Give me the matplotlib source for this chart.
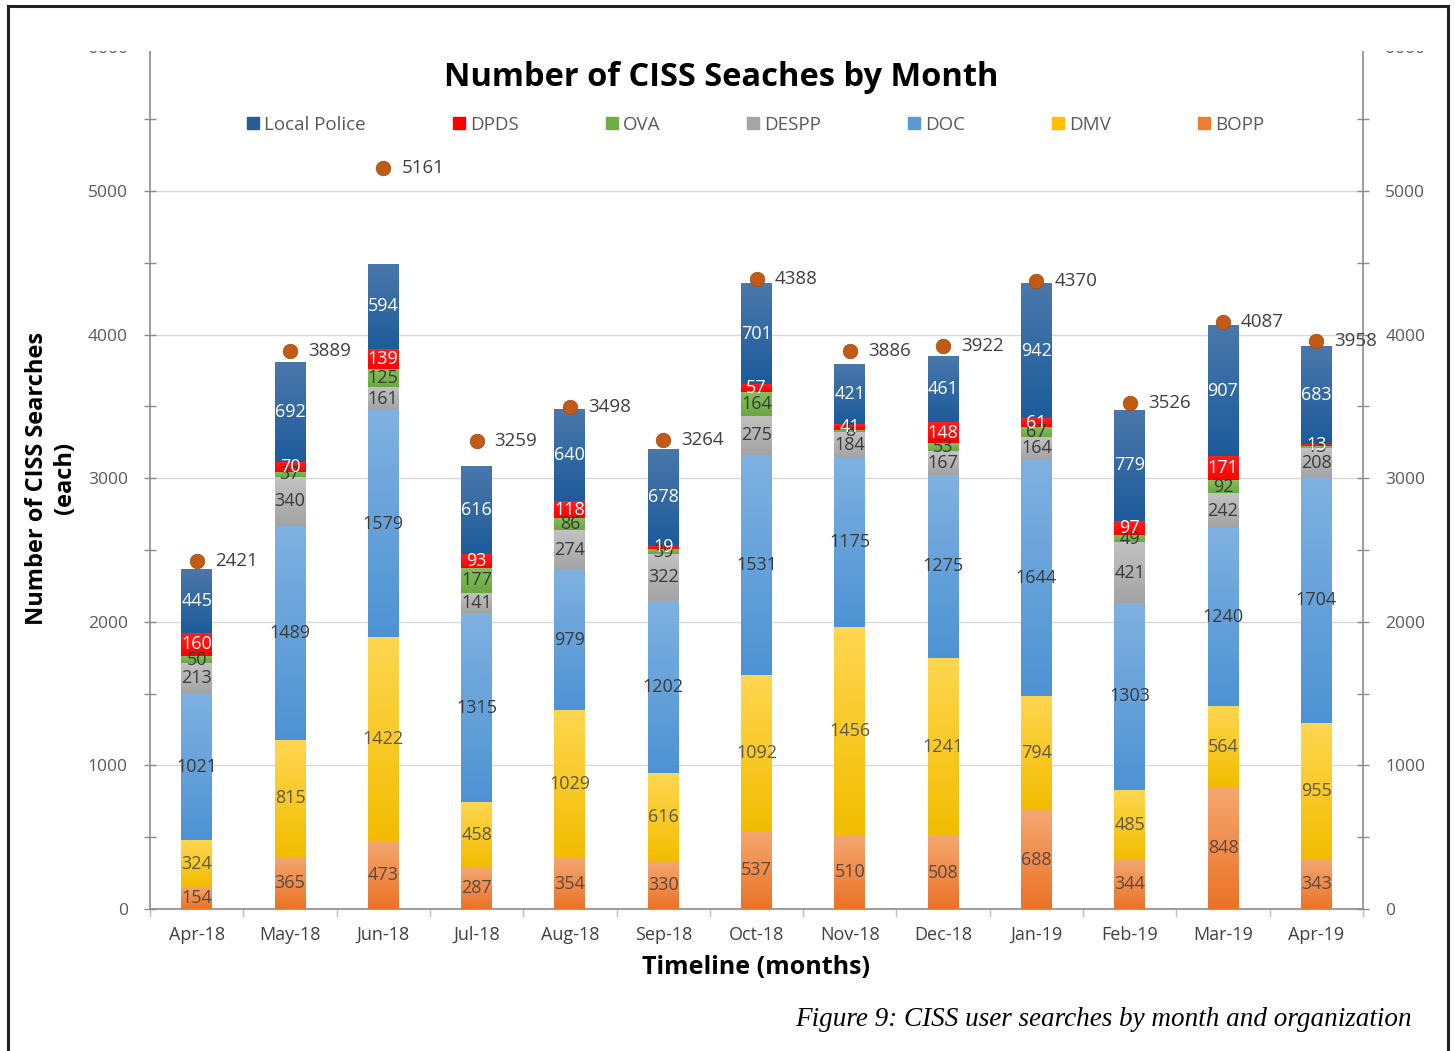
import numpy as np
import matplotlib
matplotlib.use("Agg")
import matplotlib.pyplot as plt
from matplotlib.colors import LinearSegmentedColormap
from matplotlib.lines import Line2D
from matplotlib.patches import Rectangle

months = ["Apr-18", "May-18", "Jun-18", "Jul-18", "Aug-18", "Sep-18", "Oct-18",
          "Nov-18", "Dec-18", "Jan-19", "Feb-19", "Mar-19", "Apr-19"]
bopp = [154, 365, 473, 287, 354, 330, 537, 510, 508, 688, 344, 848, 343]
dmv = [324, 815, 1422, 458, 1029, 616, 1092, 1456, 1241, 794, 485, 564, 955]
doc = [1021, 1489, 1579, 1315, 979, 1202, 1531, 1175, 1275, 1644, 1303, 1240, 1704]
despp = [213, 340, 161, 141, 274, 322, 275, 184, 167, 164, 421, 242, 208]
ova = [50, 37, 125, 177, 86, 39, 164, 8, 53, 67, 49, 92, 13]
dpds = [160, 70, 139, 93, 118, 19, 57, 41, 148, 61, 97, 171, 13]
local_police = [445, 692, 594, 616, 640, 678, 701, 421, 461, 942, 779, 907, 683]
totals = [2421, 3889, 5161, 3259, 3498, 3264, 4388, 3886, 3922, 4370, 3526, 4087, 3958]

series = [
    ("BOPP", bopp, "#ED7D31", ("#ec7226", "#f4a770"), "#5a4a40"),
    ("DMV", dmv, "#FFC000", ("#f2bd00", "#ffd650"), "#5f5a45"),
    ("DOC", doc, "#5B9BD5", ("#4d93d3", "#7fb1e1"), "#3a3a3a"),
    ("DESPP", despp, "#A5A5A5", ("#a3a3a3", "#c2c2c2"), "#3a3a3a"),
    ("OVA", ova, "#70AD47", ("#6aa842", "#86be60"), "#3a3a3a"),
    ("DPDS", dpds, "#FF0000", ("#ff0000", "#ff2020"), "#ffffff"),
    ("Local Police", local_police, "#255E91", ("#1d5b9b", "#4a78ab"), "#ffffff"),
]

plt.rcParams['font.family'] = ['Open Sans', 'DejaVu Sans']

W, H = 1455, 1051
fig = plt.figure(figsize=(W / 100, H / 100), dpi=100)
fig.patch.set_facecolor("white")

ax_l, ax_r, ax_b, ax_t = 150, 1363, 909, 47.4
ax = fig.add_axes([ax_l / W, 1 - ax_b / H, (ax_r - ax_l) / W, (ax_b - ax_t) / H])

x = np.arange(len(months))
width = 0.33
bottom = np.zeros(len(months))
for name, vals, col, (cb, ct), tcol in series:
    vals = np.array(vals, dtype=float)
    bars = ax.bar(x, vals, width, bottom=bottom, color=col, zorder=3, linewidth=0)
    cmap = LinearSegmentedColormap.from_list(name, [cb, ct])
    grad = np.linspace(0, 1, 64).reshape(-1, 1)
    for p in bars.patches:
        bx, by = p.get_x(), p.get_y()
        bw, bh = p.get_width(), p.get_height()
        im = ax.imshow(grad, extent=[bx, bx + bw, by, by + bh], origin="lower",
                       aspect="auto", cmap=cmap, zorder=3.5, interpolation="bicubic")
        im.set_clip_path(p)
    for xi, b, v in zip(x, bottom, vals):
        ax.text(xi, b + v / 2, f"{int(v)}", ha="center", va="center",
                fontsize=13, color=tcol, zorder=6)
    bottom += vals

ax.plot(x, totals, "o", color="#C05A14", markersize=10.5, zorder=7,
        markeredgecolor="#A04A10", markeredgewidth=0.5)
for xi, t in zip(x, totals):
    ax.annotate(f"{t}", (xi, t), xytext=(13, 0), textcoords="offset points",
                ha="left", va="center", fontsize=13.5, color="#404040", zorder=7)

ax.set_xlim(-0.5, len(months) - 0.5)
ax.set_ylim(0, 6000)
ax.set_yticks(np.arange(0, 6001, 1000))
ax.set_yticks(np.arange(500, 6000, 1000), minor=True)
ax.yaxis.grid(True, which="major", color="#D9D9D9", linewidth=1, zorder=0)
ax.set_axisbelow(True)
ax.tick_params(axis="y", which="both", direction="inout", length=8, width=1,
               color="#8c8c8c", labelsize=12.5, labelcolor="#595959", pad=12,
               right=True, labelright=True)
ax.spines["top"].set_visible(False)
for s in ["left", "right", "bottom"]:
    ax.spines[s].set_color("#8c8c8c")
    ax.spines[s].set_linewidth(1.2)

ax.set_xticks(x)
ax.set_xticklabels(months)
ax.set_xticks(np.arange(-0.5, len(months) + 0.5, 1), minor=True)
ax.tick_params(axis="x", which="major", length=0, labelsize=13,
               labelcolor="#404040", pad=12)
ax.tick_params(axis="x", which="minor", length=6, width=1, color="#bfbfbf")

ax.set_xlabel("Timeline (months)", fontsize=18, fontweight="bold", labelpad=8,
              color="black")
ax.set_ylabel("Number of CISS Searches\n(each)", fontsize=17, fontweight="bold",
              labelpad=8, color="black")

fig.text(721 / W, 1 - 77 / H, "Number of CISS Seaches by Month", ha="center",
         va="center", fontsize=23.5, fontweight="bold", color="black", zorder=12)

handles = [Line2D([], [], marker="s", linestyle="none", markersize=8,
                  color=col) for name, _, col, _, _ in series[::-1]]
labels = [name for name, *_ in series[::-1]]
fig.legend(handles, labels, loc="center", bbox_to_anchor=(755 / W, 1 - 125 / H),
           ncol=7, frameon=False, fontsize=13.5, labelcolor="#595959",
           columnspacing=4.55, handletextpad=0.2, handlelength=0.8)

# white mask cropping the top of the chart
fig.add_artist(Rectangle((10 / W, 1 - 51 / H), (W - 20) / W, 42 / H,
                         transform=fig.transFigure, facecolor="white",
                         edgecolor="none", zorder=10))
# frame lines
lc = "#222222"
fig.add_artist(Line2D([8 / W, 8 / W], [0, 1 - 6 / H], transform=fig.transFigure,
                      color=lc, linewidth=2.2, zorder=11))
fig.add_artist(Line2D([8 / W, 1448 / W], [1 - 6 / H, 1 - 6 / H],
                      transform=fig.transFigure, color=lc, linewidth=2.2, zorder=11))
fig.add_artist(Line2D([1448 / W, 1448 / W], [0, 1 - 6 / H],
                      transform=fig.transFigure, color=lc, linewidth=2.2, zorder=11))

fig.text(1412 / W, 1 - 1019 / H, "Figure 9: CISS user searches by month and organization",
         ha="right", va="center", fontsize=19.5, fontstyle="italic",
         family=["Liberation Serif", "DejaVu Serif"], color="black")

fig.savefig("out.png", dpi=100)
